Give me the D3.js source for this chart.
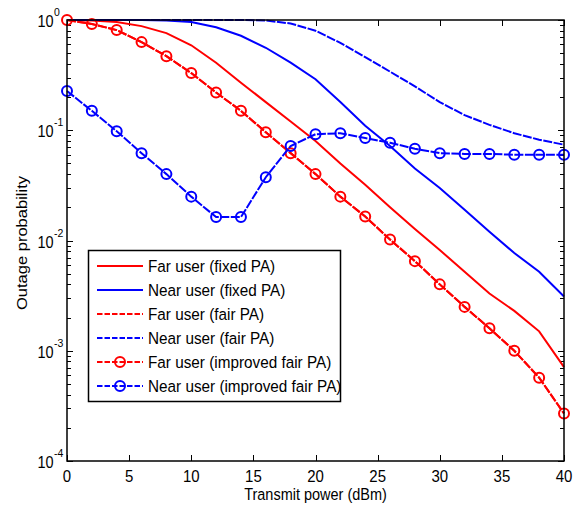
<!DOCTYPE html>
<html>
<head>
<meta charset="utf-8">
<script src="https://cdn.jsdelivr.net/npm/d3@7"></script>
<style>
  body { margin: 0; background: #fff; }
  text { font-family: "Liberation Sans", Arial, sans-serif; }
</style>
</head>
<body>
<svg id="chart" width="577" height="508"></svg>
<script>
// ---- data ----
var power = d3.range(0, 41, 2)   // 0,2,...,40 dBm

var farFixed    = [1.0, 0.99, 0.96, 0.88, 0.76, 0.59, 0.41, 0.27, 0.18, 0.12, 0.080,
                   0.050, 0.032, 0.020, 0.0127, 0.0082, 0.0052, 0.0033, 0.0023, 0.0015, 0.00071]
var nearFixed   = [1.0, 1.0, 1.0, 1.0, 0.99, 0.96, 0.86, 0.72, 0.56, 0.41, 0.29,
                   0.18, 0.11, 0.072, 0.045, 0.030, 0.019, 0.012, 0.0077, 0.0052, 0.0031]
var farFair     = [1.0, 0.92, 0.81, 0.63, 0.47, 0.33, 0.22, 0.15, 0.096, 0.062, 0.040,
                   0.025, 0.0165, 0.0102, 0.0065, 0.0040, 0.0025, 0.0016, 0.0010, 0.00057, 0.00027]
var nearFair    = [1.0, 1.0, 1.0, 1.0, 1.0, 1.0, 1.0, 1.0, 0.99, 0.93, 0.80,
                   0.62, 0.46, 0.34, 0.25, 0.18, 0.137, 0.112, 0.094, 0.082, 0.074]
var farImproved = farFair.slice()
var nearImproved = [0.227, 0.15, 0.098, 0.062, 0.040, 0.025, 0.0163, 0.0163, 0.0375, 0.072, 0.092,
                    0.094, 0.085, 0.077, 0.068, 0.062, 0.061, 0.061, 0.060, 0.060, 0.060]

var xTicks = [0, 5, 10, 15, 20, 25, 30, 35, 40]
var yExps = [0, -1, -2, -3, -4]

var series = [
    {name: "Far user (fixed PA)", values: farFixed, color: "#ff0000", dash: false, marker: false},
    {name: "Near user (fixed PA)", values: nearFixed, color: "#0000ff", dash: false, marker: false},
    {name: "Far user (fair PA)", values: farFair, color: "#ff0000", dash: true, marker: false},
    {name: "Near user (fair PA)", values: nearFair, color: "#0000ff", dash: true, marker: false},
    {name: "Far user (improved fair PA)", values: farImproved, color: "#ff0000", dash: true, marker: true},
    {name: "Near user (improved fair PA)", values: nearImproved, color: "#0000ff", dash: true, marker: true}
]

//===================== chart ====================
var svg = d3.select("#chart")
var plotL = 67, plotR = 564, plotT = 20, plotB = 461
var stretch = 1.12   // text in the figure is a bit taller than wide

var x = d3.scaleLinear().domain([0, 40]).range([plotL, plotR])
var y = d3.scaleLog().domain([1e-4, 1]).range([plotB, plotT])

function addText(g, tx, ty, str, size, anchor) {
    return g.append("text")
        .attr("transform", "translate(" + tx + "," + ty + ") scale(1," + stretch + ")")
        .attr("text-anchor", anchor || "start")
        .attr("font-size", size)
        .text(str)
}

// minor + major ticks (inward, on all four sides)
var ticks = svg.append("g").attr("stroke", "#000").attr("stroke-width", 1)
yExps.forEach(function(e){
    for (var m = 1; m <= 9; m++) {
        var v = m * Math.pow(10, e)
        if (v > 1 || v < 1e-4) continue
        var len = m == 1 ? 6 : 4
        var yy = Math.round(y(v)) + 0.5
        ticks.append("line").attr("x1", plotL).attr("x2", plotL + len).attr("y1", yy).attr("y2", yy)
        ticks.append("line").attr("x1", plotR).attr("x2", plotR - len).attr("y1", yy).attr("y2", yy)
    }
})
xTicks.forEach(function(t){
    var xx = Math.round(x(t)) + 0.5
    ticks.append("line").attr("x1", xx).attr("x2", xx).attr("y1", plotB).attr("y2", plotB - 6)
    ticks.append("line").attr("x1", xx).attr("x2", xx).attr("y1", plotT).attr("y2", plotT + 6)
})

// curves
var line = d3.line().x(function(d, i){ return x(power[i]) }).y(function(d){ return y(d) })
var plot = svg.append("g")
series.forEach(function(s){
    plot.append("path")
        .attr("d", line(s.values))
        .attr("fill", "none")
        .attr("stroke", s.color)
        .attr("stroke-width", 2)
        .attr("stroke-dasharray", s.dash ? "9,1.5" : null)
    if (s.marker) {
        plot.selectAll(null).data(s.values).enter().append("circle")
            .attr("cx", function(d, i){ return x(power[i]) })
            .attr("cy", function(d){ return y(d) })
            .attr("r", 5)
            .attr("fill", "none")
            .attr("stroke", s.color)
            .attr("stroke-width", 2)
    }
})

// box
svg.append("rect")
    .attr("x", plotL).attr("y", plotT)
    .attr("width", plotR - plotL).attr("height", plotB - plotT)
    .attr("fill", "none").attr("stroke", "#000").attr("stroke-width", 1.5)

// tick labels
var labels = svg.append("g")
xTicks.forEach(function(t){
    addText(labels, x(t), 482, t, 15, "middle")
})
yExps.forEach(function(e){
    var yy = y(Math.pow(10, e))
    addText(labels, 53.5, yy + 7, "10", 14.5, "end")
    addText(labels, 54, yy - 4, e == 0 ? "0" : "-" + (-e), 10.5)
})

// axis titles
addText(svg, (plotL + plotR) / 2, 500, "Transmit power (dBm)", 14.5, "middle")
svg.append("text")
    .attr("transform", "translate(27,243) rotate(-90) scale(" + 1.14 + ",1)")
    .attr("text-anchor", "middle").attr("font-size", 14.5)
    .text("Outage probability")

// legend
var lg = svg.append("g")
lg.append("rect")
    .attr("x", 88.5).attr("y", 250.5).attr("width", 252).attr("height", 151)
    .attr("fill", "#fff").attr("stroke", "#000").attr("stroke-width", 1.5)
series.forEach(function(s, i){
    var yy = 266 + i * 24
    lg.append("line")
        .attr("x1", 97).attr("x2", 143).attr("y1", yy).attr("y2", yy)
        .attr("stroke", s.color).attr("stroke-width", 2)
        .attr("stroke-dasharray", s.dash ? "5.5,2" : null)
    if (s.marker) {
        lg.append("circle").attr("cx", 120).attr("cy", yy).attr("r", 5)
            .attr("fill", "none").attr("stroke", s.color).attr("stroke-width", 2)
    }
    addText(lg, 148, yy + 5.5, s.name, 15.3)
})
</script>
</body>
</html>
